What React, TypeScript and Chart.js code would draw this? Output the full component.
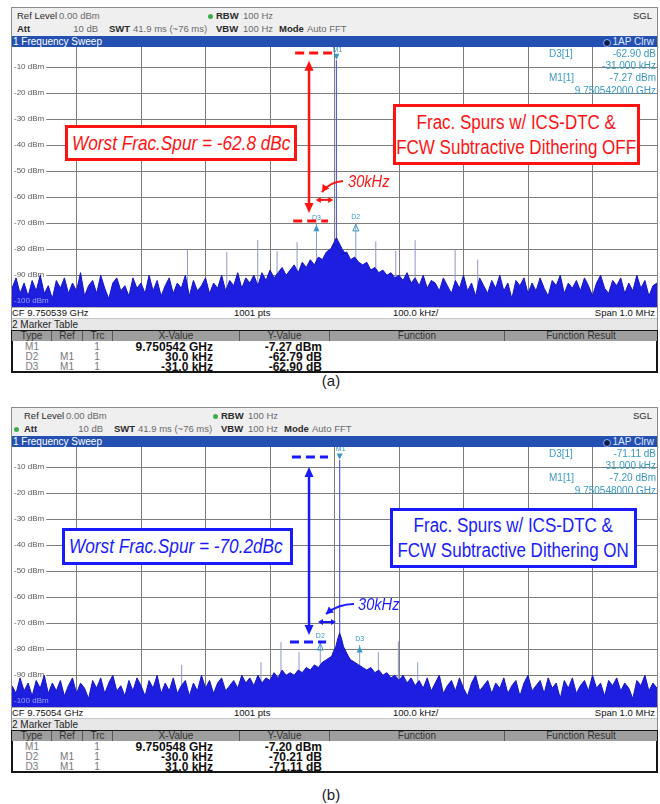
import React, { useEffect, useRef } from "react";
import { Chart, registerables } from "chart.js";

Chart.register(...registerables);

const FONT = "'Liberation Sans', Arial, sans-serif";

// ---------- shared axis values ----------
const FREQ_START_KHZ = -500; // offset from CF
const FREQ_STEP_KHZ = 6.25;
const LEVEL_MIN = -102.2;
const LEVEL_MAX = -2.2;
const yTickValues = [-10, -20, -30, -40, -50, -60, -70, -80, -90, -100];
const yTickLabels = ["-10 dBm", "-20 dBm", "-30 dBm", "-40 dBm", "-50 dBm", "-60 dBm", "-70 dBm", "-80 dBm", "-90 dBm", "-100 dBm"];
const xGridValues = [-400, -300, -200, -100, 0, 100, 200, 300, 400];
const SPUR_FLOOR = -96;
const tableColumns = ["Type", "Ref", "Trc", "X-Value", "Y-Value", "Function", "Function Result"];

// ---------- (a) dithering OFF ----------
const noiseA = [
  -95, -91, -97, -93, -98, -92, -96, -90, -97, -94,
  -99, -92, -95, -91, -97, -93, -96, -89, -98, -94,
  -92, -97, -90, -95, -99, -93, -91, -96, -94, -98,
  -91, -95, -93, -97, -90, -96, -92, -98, -94, -91,
  -97, -93, -95, -90, -98, -92, -96, -94, -91, -97,
  -93, -95, -90, -96, -92, -94, -89, -95, -91, -93,
  -90, -94, -89, -92, -88, -91, -89, -87, -90, -88,
  -86, -89, -85, -87, -84, -86, -83, -84, -81, -80,
  -78, -80, -82, -81, -84, -83, -85, -86, -85, -88,
  -87, -89, -88, -90, -89, -91, -90, -92, -89, -93,
  -91, -94, -90, -95, -92, -93, -96, -91, -94, -97,
  -92, -95, -90, -96, -93, -98, -91, -94, -97, -92,
  -95, -90, -96, -93, -99, -92, -94, -91, -97, -93,
  -96, -91, -95, -98, -92, -94, -90, -97, -93, -95,
  -92, -96, -91, -94, -98, -93, -90, -95, -97, -92,
  -94, -91, -97, -93, -96, -90, -95, -92, -98, -94,
  -93,
];
const closeInFreqA = [-12, -6, -2, 1, 3, 5, 8, 12, 18];
const closeInLevelA = [-82, -80, -78, -76.5, -75.5, -76.5, -78, -80, -82];
const spurFreqA = [-228, -167, -119, -89, -58, -28, 33, 64, 95, 125, 187, 222];
const spurLevelA = [-80, -81, -76.5, -80.7, -77.3, -70.17, -70.06, -77, -80.6, -76.5, -80, -84];
const carrierFreqA = 3;
const carrierLevelA = -7.27;
const deltaNamesA = ["D3", "D2"];
const deltaFreqA = [-28, 33];
const deltaLevelA = [-70.17, -70.06];
const deltaOpenA = [false, true];
const readoutLabelsA = ["D3[1]", "", "M1[1]", ""];
const readoutValuesA = ["-62.90 dB", "-31.000 kHz", "-7.27 dBm", "9.750542000 GHz"];
const tableTypeA = ["M1", "D2", "D3"];
const tableRefA = ["", "M1", "M1"];
const tableTrcA = ["1", "1", "1"];
const tableXA = ["9.750542 GHz", "30.0 kHz", "-31.0 kHz"];
const tableYA = ["-7.27 dBm", "-62.79 dB", "-62.90 dB"];

// ---------- (b) dithering ON ----------
const noiseB = [
  -94, -97, -91, -96, -93, -98, -92, -95, -90, -97,
  -93, -96, -92, -98, -94, -91, -97, -93, -95, -99,
  -92, -95, -91, -97, -93, -90, -96, -94, -98, -92,
  -96, -91, -94, -98, -92, -95, -90, -97, -93, -96,
  -91, -97, -94, -92, -98, -93, -96, -90, -95, -92,
  -97, -93, -91, -96, -94, -92, -95, -90, -93, -91,
  -94, -90, -93, -91, -92, -89, -91, -88, -90, -89,
  -90, -88, -89, -87, -88, -86, -87, -85, -84, -83,
  -82, -80, -81, -82, -84, -85, -86, -87, -88, -87,
  -89, -88, -90, -89, -91, -90, -92, -90, -93, -91,
  -94, -92, -95, -91, -96, -93, -90, -97, -94, -92,
  -96, -91, -95, -98, -93, -90, -96, -94, -92, -97,
  -93, -95, -91, -97, -94, -92, -98, -93, -90, -96,
  -94, -92, -97, -91, -95, -93, -99, -92, -95, -91,
  -97, -94, -92, -96, -90, -95, -93, -98, -92, -94,
  -91, -96, -93, -95, -99, -92, -94, -90, -96, -93,
  -95,
];
const closeInFreqB = [-6, -2, 2, 5, 8, 11, 14, 18, 24];
const closeInLevelB = [-84, -81, -79, -76, -73.7, -76, -79, -81, -84];
const spurFreqB = [-237, -114, -83, -55, -22, 39, 68, 99, 129];
const spurLevelB = [-86, -85, -77.3, -81, -77.41, -78.31, -81, -77, -85];
const carrierFreqB = 8;
const carrierLevelB = -7.2;
const deltaNamesB = ["D2", "D3"];
const deltaFreqB = [-22, 39];
const deltaLevelB = [-77.41, -78.31];
const deltaOpenB = [true, false];
const readoutLabelsB = ["D3[1]", "", "M1[1]", ""];
const readoutValuesB = ["-71.11 dB", "31.000 kHz", "-7.20 dBm", "9.750548000 GHz"];
const tableTypeB = ["M1", "D2", "D3"];
const tableRefB = ["", "M1", "M1"];
const tableTrcB = ["1", "1", "1"];
const tableXB = ["9.750548 GHz", "-30.0 kHz", "31.0 kHz"];
const tableYB = ["-7.20 dBm", "-70.21 dB", "-71.11 dB"];

// annotation geometry in data units (kHz offset, dBm)
const annA = {
  color: "#ff1212",
  dashes: [{ y: -4.5, x1: -61, x2: -4 }, { y: -69.1, x1: -64, x2: -10 }],
  vArrow: { x: -39.5, y1: -7.5, y2: -66 },
  hArrow: { y: -61, x1: -29, x2: -2 },
  curve: { x0: 13.2, y0: -53.7, cx: -8.5, cy: -54.1, x1: -19.4, y1: -58 },
};
const annB = {
  color: "#1a1aff",
  dashes: [{ y: -6.05, x1: -66, x2: -10 }, { y: -77.2, x1: -69, x2: -13 }],
  vArrow: { x: -39.5, y1: -9.9, y2: -74.5 },
  hArrow: { y: -69.5, x1: -25.6, x2: 2.3 },
  curve: { x0: 30.2, y0: -62.6, cx: 5.4, cy: -62.6, x1: -13.2, y1: -66.4 },
};

const MARKER_COLOR = "#3b98c4";

function arrowHead(ctx: CanvasRenderingContext2D, x: number, y: number, ang: number, len: number, half: number) {
  const bx = x - len * Math.cos(ang);
  const by = y - len * Math.sin(ang);
  ctx.beginPath();
  ctx.moveTo(x, y);
  ctx.lineTo(bx + half * Math.sin(ang), by - half * Math.cos(ang));
  ctx.lineTo(bx - half * Math.sin(ang), by + half * Math.cos(ang));
  ctx.closePath();
  ctx.fill();
}

function makeOverlay(spec: any) {
  return {
    id: "overlay",
    afterDatasetsDraw(chart: any) {
      const ctx: CanvasRenderingContext2D = chart.ctx;
      const xs = chart.scales.x;
      const ys = chart.scales.y;
      const px = (v: number) => xs.getPixelForValue(v);
      const py = (v: number) => ys.getPixelForValue(v);
      ctx.save();
      // bottom tick label sits on top of the trace
      ctx.font = "8px 'Liberation Sans'";
      ctx.textAlign = "left";
      ctx.textBaseline = "middle";
      ctx.fillStyle = "rgba(175,185,255,0.85)";
      ctx.fillText(yTickLabels[yTickLabels.length - 1], 2, py(yTickValues[yTickValues.length - 1]));

      // markers
      ctx.fillStyle = MARKER_COLOR;
      ctx.strokeStyle = MARKER_COLOR;
      ctx.lineWidth = 1;
      ctx.font = "7px 'Liberation Sans'";
      ctx.textAlign = "center";
      const mx = px(spec.carrierFreq);
      const my = py(spec.carrierLevel);
      ctx.beginPath();
      ctx.moveTo(mx, my - 0.5);
      ctx.lineTo(mx - 3, my - 6.5);
      ctx.lineTo(mx + 3, my - 6.5);
      ctx.closePath();
      ctx.fill();
      ctx.fillText("M1", mx + 1, my - 10.5);
      spec.deltaNames.forEach((n: string, i: number) => {
        const dx = px(spec.deltaFreq[i]);
        const dy = py(spec.deltaLevel[i]);
        ctx.beginPath();
        ctx.moveTo(dx, dy + 1);
        ctx.lineTo(dx - 3, dy + 7.5);
        ctx.lineTo(dx + 3, dy + 7.5);
        ctx.closePath();
        if (spec.deltaOpen[i]) ctx.stroke();
        else ctx.fill();
        ctx.fillText(n, dx, dy - 6);
      });

      // annotations
      const a = spec.ann;
      ctx.strokeStyle = a.color;
      ctx.fillStyle = a.color;
      ctx.lineCap = "butt";
      ctx.lineWidth = 3;
      ctx.setLineDash([9, 5]);
      a.dashes.forEach((d: any) => {
        ctx.beginPath();
        ctx.moveTo(px(d.x1), py(d.y));
        ctx.lineTo(px(d.x2), py(d.y));
        ctx.stroke();
      });
      ctx.setLineDash([]);
      // vertical double arrow
      const vx = px(a.vArrow.x);
      const vt = py(a.vArrow.y1);
      const vb = py(a.vArrow.y2);
      ctx.lineWidth = 2.5;
      ctx.beginPath();
      ctx.moveTo(vx, vt + 8);
      ctx.lineTo(vx, vb - 8);
      ctx.stroke();
      arrowHead(ctx, vx, vt, -Math.PI / 2, 10, 4.5);
      arrowHead(ctx, vx, vb, Math.PI / 2, 10, 4.5);
      // small horizontal double arrow
      const hy = py(a.hArrow.y);
      const hl = px(a.hArrow.x1);
      const hr = px(a.hArrow.x2);
      ctx.lineWidth = 2;
      ctx.beginPath();
      ctx.moveTo(hl + 4, hy);
      ctx.lineTo(hr - 4, hy);
      ctx.stroke();
      arrowHead(ctx, hl, hy, Math.PI, 5, 3);
      arrowHead(ctx, hr, hy, 0, 5, 3);
      // curved pointer from label
      const c = a.curve;
      const x0 = px(c.x0), y0 = py(c.y0), cx = px(c.cx), cy = py(c.cy), x1 = px(c.x1), y1 = py(c.y1);
      ctx.lineWidth = 2;
      ctx.beginPath();
      ctx.moveTo(x0, y0);
      ctx.quadraticCurveTo(cx, cy, x1, y1);
      ctx.stroke();
      arrowHead(ctx, x1, y1, Math.atan2(y1 - cy, x1 - cx), 7, 4);
      ctx.restore();
    },
  };
}

function SpectrumCanvas({ spec, top }: { spec: any; top: number }) {
  const ref = useRef<HTMLCanvasElement | null>(null);
  useEffect(() => {
    if (!ref.current) return;
    const noiseData = spec.noise.map((v: number, i: number) => ({ x: FREQ_START_KHZ + i * FREQ_STEP_KHZ, y: v }));
    const closeData = spec.closeInFreq.map((f: number, i: number) => ({ x: f, y: spec.closeInLevel[i] }));
    const spurData: any[] = [];
    spec.spurFreq.forEach((f: number, i: number) => {
      spurData.push({ x: f, y: SPUR_FLOOR }, { x: f, y: spec.spurLevel[i] }, { x: f, y: null });
    });
    const carrierData = [
      { x: spec.carrierFreq, y: spec.closeInLevel[Math.floor(spec.closeInLevel.length / 2)] },
      { x: spec.carrierFreq, y: spec.carrierLevel },
    ];
    const chart = new Chart(ref.current, {
      type: "line",
      data: {
        datasets: [
          { data: noiseData, borderColor: "#1414c4", backgroundColor: "#1e1ee0", borderWidth: 1, fill: "start", pointRadius: 0, order: 0 },
          { data: closeData, borderColor: "#1414c4", backgroundColor: "#1e1ee0", borderWidth: 1, fill: "start", pointRadius: 0, order: 1 },
          { data: carrierData, borderColor: "#5c5cd8", borderWidth: 1.2, fill: false, pointRadius: 0, order: 2 },
          { data: spurData, borderColor: "#8e97cc", borderWidth: 1, fill: false, pointRadius: 0, spanGaps: false, order: 3 },
        ],
      } as any,
      options: {
        animation: false,
        responsive: false,
        maintainAspectRatio: false,
        events: [],
        layout: { padding: 0 },
        plugins: { legend: { display: false }, tooltip: { enabled: false }, title: { display: false } },
        scales: {
          x: {
            type: "linear",
            min: -500,
            max: 500,
            afterFit: (s: any) => { s.height = 0; s.paddingLeft = 0; s.paddingRight = 0; s.paddingTop = 0; s.paddingBottom = 0; },
            afterBuildTicks: (s: any) => { s.ticks = xGridValues.map((v) => ({ value: v })); },
            ticks: { display: false },
            grid: { color: "#7c7c7c", lineWidth: 1, drawTicks: false },
            border: { display: false },
          },
          y: {
            type: "linear",
            min: LEVEL_MIN,
            max: LEVEL_MAX,
            afterFit: (s: any) => { s.width = 0; s.paddingLeft = 0; s.paddingRight = 0; s.paddingTop = 0; s.paddingBottom = 0; },
            afterBuildTicks: (s: any) => { s.ticks = yTickValues.map((v) => ({ value: v })); },
            ticks: {
              mirror: true,
              padding: 2,
              autoSkip: false,
              color: "#5a5a5a",
              font: { family: "Liberation Sans", size: 8 },
              callback: (_v: any, i: number) => yTickLabels[i],
              showLabelBackdrop: true,
              backdropColor: "#ffffff",
              backdropPadding: { left: 2, right: 2, top: 0, bottom: 0 },
            },
            grid: { color: "#7c7c7c", lineWidth: 1, drawTicks: false },
            border: { display: false },
          },
        },
      } as any,
      plugins: [makeOverlay(spec)],
    });
    return () => chart.destroy();
  }, [spec]);
  return (
    <canvas
      ref={ref}
      width={645}
      height={260}
      style={{ position: "absolute", left: 12, top: top + 47, width: 645, height: 260 }}
    />
  );
}

function Txt(props: any) {
  const { x, y, s = 10, c = "#222", w = "normal", a = "left", it = false, children, f } = props;
  const style: any = {
    position: "absolute",
    top: y - s * 0.6,
    fontSize: s,
    lineHeight: `${s * 1.2}px`,
    color: c,
    fontWeight: w,
    fontStyle: it ? "italic" : "normal",
    whiteSpace: "nowrap",
    fontFamily: f || FONT,
  };
  if (a === "left") style.left = x;
  else if (a === "right") style.right = 660 - x;
  else {
    style.left = x;
    style.transform = "translateX(-50%)";
  }
  return <div style={style}>{children}</div>;
}

function Dot({ x, y }: { x: number; y: number }) {
  return <div style={{ position: "absolute", left: x - 2.5, top: y - 2.5, width: 5, height: 5, borderRadius: 3, background: "#3cae4a" }} />;
}

const colEdges = [12, 52, 83, 113, 240, 330, 505, 657];

function Panel(p: any) {
  const T = p.T;
  const sh = p.shift;
  const hdrGrey = "#6a6a6a";
  return (
    <>
      {/* frame + header */}
      <div style={{ position: "absolute", left: 11, top: T + 7, width: 647, height: 366, border: "1px solid #8a8a8a", boxSizing: "border-box" }} />
      <div style={{ position: "absolute", left: 12, top: T + 8, width: 645, height: 28, background: "#efefef" }} />
      <Txt x={17 + sh + p.lshift} y={T + 16} s={9.5} c="#2a2a2a">Ref Level</Txt>
      <Txt x={59 + sh + p.lshift} y={T + 16} s={9.5} c={hdrGrey}>0.00 dBm</Txt>
      <Dot x={210 + sh} y={T + 16} />
      <Txt x={216 + sh} y={T + 16} s={9.5} c="#2a2a2a" w="bold">RBW</Txt>
      <Txt x={243 + sh} y={T + 16} s={9.5} c={hdrGrey}>100 Hz</Txt>
      <Txt x={652} y={T + 16} s={9.5} c="#2a2a2a" a="right">SGL</Txt>
      {p.attDot ? <Dot x={16} y={T + 29} /> : null}
      <Txt x={17 + sh + p.lshift} y={T + 29} s={9.5} c="#2a2a2a" w="bold">Att</Txt>
      <Txt x={98 + sh} y={T + 29} s={9.5} c={hdrGrey} a="right">10 dB</Txt>
      <Txt x={109 + sh} y={T + 29} s={9.5} c="#2a2a2a" w="bold">SWT</Txt>
      <Txt x={133 + sh} y={T + 29} s={9.5} c={hdrGrey}>41.9 ms (~76 ms)</Txt>
      <Txt x={216 + sh} y={T + 29} s={9.5} c="#2a2a2a" w="bold">VBW</Txt>
      <Txt x={243 + sh} y={T + 29} s={9.5} c={hdrGrey}>100 Hz</Txt>
      <Txt x={279 + sh} y={T + 29} s={9.5} c="#2a2a2a" w="bold">Mode</Txt>
      <Txt x={307 + sh} y={T + 29} s={9.5} c={hdrGrey}>Auto FFT</Txt>

      {/* blue title bar */}
      <div style={{ position: "absolute", left: 12, top: T + 36, width: 645, height: 11, background: "#2450b2" }} />
      <Txt x={13} y={T + 41.5} s={10} c="#ffffff">1 Frequency Sweep</Txt>
      <div style={{ position: "absolute", left: 603, top: T + 38.5, width: 6, height: 6, borderRadius: 4, background: "#0b1c55", border: "1px solid #9fb4e8" }} />
      <Txt x={654} y={T + 41.5} s={10} c="#dce6ff" a="right">1AP Clrw</Txt>

      {/* plot */}
      <SpectrumCanvas spec={p.spec} top={T} />

      {/* marker readouts */}
      {p.readLabels.map((l: string, i: number) => (
        <Txt key={"rl" + i} x={549} y={T + [54, 65.5, 77.5, 90.5][i]} s={10} c={MARKER_COLOR}>{l}</Txt>
      ))}
      {p.readValues.map((v: string, i: number) => (
        <Txt key={"rv" + i} x={656} y={T + [54, 65.5, 77.5, 90.5][i]} s={10} c={MARKER_COLOR} a="right">{v}</Txt>
      ))}

      {/* annotation boxes */}
      <div style={{ position: "absolute", left: p.worst.l, top: T + p.worst.t, width: p.worst.w, height: p.worst.h, border: `3px solid ${p.color}`, boxSizing: "border-box", background: "#fff" }}>
        <div style={{ position: "absolute", left: 4, top: 0, height: p.worst.h - 6, lineHeight: `${p.worst.h - 6}px`, fontSize: 20, fontStyle: "italic", color: p.color, whiteSpace: "nowrap", transform: "scaleX(0.86)", transformOrigin: "left center", fontFamily: FONT }}>
          {p.worstText}
        </div>
      </div>
      <div style={{ position: "absolute", left: p.frac.l, top: T + p.frac.t, width: p.frac.w, height: p.frac.h, border: `3px solid ${p.color}`, boxSizing: "border-box", background: "#fff", display: "flex", flexDirection: "column", alignItems: "center", justifyContent: "center" }}>
        {p.fracLines.map((t: string, i: number) => (
          <div key={i} style={{ fontSize: 20, lineHeight: "25px", color: p.color, whiteSpace: "nowrap", transform: "scaleX(0.85)", fontFamily: FONT }}>{t}</div>
        ))}
      </div>
      <div style={{ position: "absolute", left: p.khz.x, top: T + p.khz.y - 10, fontSize: 17, lineHeight: "20px", fontStyle: "italic", color: p.color, whiteSpace: "nowrap", transform: "scaleX(0.86)", transformOrigin: "left center", fontFamily: FONT }}>
        30kHz
      </div>

      {/* bottom info line */}
      <div style={{ position: "absolute", left: 12, top: T + 307, width: 645, height: 11, background: "#fff", borderTop: "1px solid #b5b5b5", boxSizing: "border-box" }} />
      <Txt x={12} y={T + 313} s={9.5} c="#111">{p.cfText}</Txt>
      <Txt x={234} y={T + 313} s={9.5} c="#111">1001 pts</Txt>
      <Txt x={393} y={T + 313} s={9.5} c="#111">100.0 kHz/</Txt>
      <Txt x={655} y={T + 313} s={9.5} c="#111" a="right">Span 1.0 MHz</Txt>

      {/* marker table */}
      <div style={{ position: "absolute", left: 12, top: T + 318, width: 645, height: 12, background: "#e7e7e7", borderTop: "1px solid #c8c8c8", boxSizing: "border-box" }} />
      <Txt x={12} y={T + 325} s={10} c="#222">2 Marker Table</Txt>
      <div style={{ position: "absolute", left: 11, top: T + 330, width: 647, height: 43, border: "2px solid #161616", boxSizing: "border-box", background: "#fff" }} />
      {tableColumns.map((h, i) => (
        <div key={"h" + i} style={{ position: "absolute", left: colEdges[i], top: T + 331, width: colEdges[i + 1] - colEdges[i], height: 10, background: "#9e9e9e", borderRight: i < tableColumns.length - 1 ? "1px solid #5a5a5a" : "none", boxSizing: "border-box", textAlign: "center", fontSize: 10, lineHeight: "10px", color: "#333", fontFamily: FONT }}>
          {h}
        </div>
      ))}
      {p.tType.map((t: string, r: number) => {
        const y = T + 347 + r * 10;
        return (
          <React.Fragment key={"r" + r}>
            <Txt x={32} y={y} s={10} c="#777" a="center">{t}</Txt>
            <Txt x={67} y={y} s={10} c="#777" a="center">{p.tRef[r]}</Txt>
            <Txt x={97} y={y} s={10} c="#777" a="center">{p.tTrc[r]}</Txt>
            <Txt x={213} y={y} s={12} c="#111" w="bold" a="right">{p.tX[r]}</Txt>
            <Txt x={322} y={y} s={12} c="#111" w="bold" a="right">{p.tY[r]}</Txt>
          </React.Fragment>
        );
      })}
    </>
  );
}

const specA = {
  noise: noiseA, closeInFreq: closeInFreqA, closeInLevel: closeInLevelA,
  spurFreq: spurFreqA, spurLevel: spurLevelA,
  carrierFreq: carrierFreqA, carrierLevel: carrierLevelA,
  deltaNames: deltaNamesA, deltaFreq: deltaFreqA, deltaLevel: deltaLevelA, deltaOpen: deltaOpenA,
  ann: annA,
};
const specB = {
  noise: noiseB, closeInFreq: closeInFreqB, closeInLevel: closeInLevelB,
  spurFreq: spurFreqB, spurLevel: spurLevelB,
  carrierFreq: carrierFreqB, carrierLevel: carrierLevelB,
  deltaNames: deltaNamesB, deltaFreq: deltaFreqB, deltaLevel: deltaLevelB, deltaOpen: deltaOpenB,
  ann: annB,
};

export default function App() {
  return (
    <div style={{ position: "absolute", left: 0, top: 0, width: 660, height: 804, background: "#fff", fontFamily: FONT, overflow: "hidden" }}>
      <Panel
        T={0} shift={0} lshift={0} attDot={false}
        spec={specA} color="#ff1212"
        readLabels={readoutLabelsA} readValues={readoutValuesA}
        worst={{ l: 65, t: 125, w: 232, h: 36 }} worstText="Worst Frac.Spur = -62.8 dBc"
        frac={{ l: 393, t: 104, w: 247, h: 61 }}
        fracLines={["Frac. Spurs w/ ICS-DTC &", "FCW Subtractive Dithering OFF"]}
        khz={{ x: 348, y: 182 }}
        cfText="CF 9.750539 GHz"
        tType={tableTypeA} tRef={tableRefA} tTrc={tableTrcA} tX={tableXA} tY={tableYA}
      />
      <Txt x={331} y={381} s={15} c="#222" a="center">(a)</Txt>
      <Panel
        T={400} shift={5} lshift={2} attDot={true}
        spec={specB} color="#1a1aff"
        readLabels={readoutLabelsB} readValues={readoutValuesB}
        worst={{ l: 62, t: 128, w: 231, h: 37 }} worstText="Worst Frac.Spur = -70.2dBc"
        frac={{ l: 390, t: 108, w: 247, h: 60 }}
        fracLines={["Frac. Spurs w/ ICS-DTC &", "FCW Subtractive Dithering ON"]}
        khz={{ x: 358, y: 205 }}
        cfText="CF 9.75054 GHz"
        tType={tableTypeB} tRef={tableRefB} tTrc={tableTrcB} tX={tableXB} tY={tableYB}
      />
      <Txt x={331} y={795} s={15} c="#222" a="center">(b)</Txt>
    </div>
  );
}
